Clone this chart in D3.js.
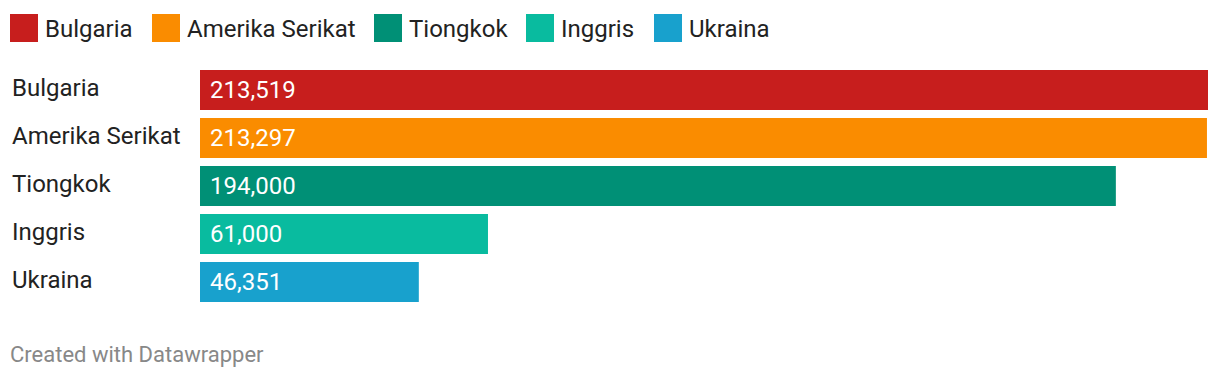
<!DOCTYPE html>
<html>
<head>
<meta charset="utf-8">
<script src="https://cdn.jsdelivr.net/npm/d3@7"></script>
<style>
  html, body { margin: 0; padding: 0; background: #fff; }
  svg { display: block; font-family: Roboto, sans-serif; }
</style>
</head>
<body>
<div id="chart"></div>
<script>
// data
const countries = ["Bulgaria", "Amerika Serikat", "Tiongkok", "Inggris", "Ukraina"];
const values = [213519, 213297, 194000, 61000, 46351];
const colors = ["#c71e1d", "#fa8c00", "#009076", "#09bb9f", "#18a1cd"];

const width = 1220, height = 378;
const svg = d3.select('#chart').append('svg')
  .attr('width', width)
  .attr('height', height);

// legend
const legendX = [10, 152, 374, 526, 654];
const legend = svg.append('g').attr('class', 'legend');
const items = legend.selectAll('g')
  .data(countries)
  .join('g')
  .attr('transform', (d, i) => `translate(${legendX[i]}, 14)`);
items.append('rect')
  .attr('width', 28)
  .attr('height', 28)
  .attr('fill', (d, i) => colors[i]);
items.append('text')
  .attr('x', 35)
  .attr('y', 14)
  .attr('dy', '0.36em')
  .style('font-size', '24px')
  .style('fill', '#222')
  .text(d => d);

// bars: 40px tall, 8px gap
const x = d3.scaleLinear()
  .domain([0, d3.max(values)])
  .range([200, 1208]);

const y = d3.scaleBand()
  .domain(countries)
  .range([70, 70 + 48 * countries.length - 8])
  .paddingInner(8 / 48)
  .paddingOuter(0);

const rows = svg.append('g').selectAll('g')
  .data(countries)
  .join('g');

rows.append('rect')
  .attr('x', x(0))
  .attr('y', d => y(d))
  .attr('width', (d, i) => x(values[i]) - x(0))
  .attr('height', y.bandwidth())
  .attr('fill', (d, i) => colors[i]);

rows.append('text')
  .attr('x', 12)
  .attr('y', d => y(d) + y.bandwidth() / 2 - 3)
  .attr('dy', '0.36em')
  .style('font-size', '24px')
  .style('fill', '#222')
  .text(d => d);

rows.append('text')
  .attr('x', x(0) + 10)
  .attr('y', d => y(d) + y.bandwidth() / 2 - 1)
  .attr('dy', '0.36em')
  .style('font-size', '24px')
  .style('fill', '#fff')
  .text((d, i) => d3.format(',')(values[i]));

// footer
svg.append('text')
  .attr('x', 10)
  .attr('y', 362)
  .style('font-size', '22px')
  .style('fill', '#888')
  .text('Created with Datawrapper');
</script>
</body>
</html>
